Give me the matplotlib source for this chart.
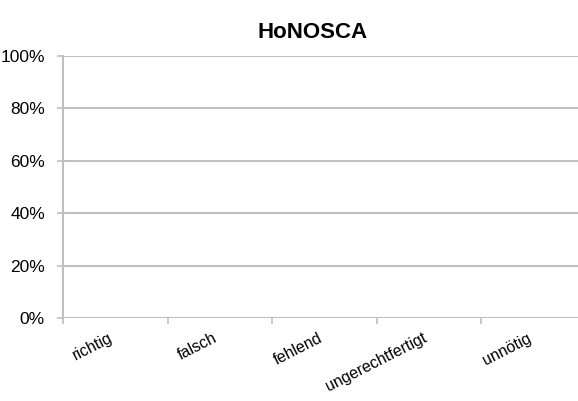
import matplotlib.pyplot as plt
from matplotlib.ticker import FixedLocator, PercentFormatter

categories = ["richtig", "falsch", "fehlend", "ungerechtfertigt", "unnötig"]
values = [0, 0, 0, 0, 0]
y_ticks = [0, 20, 40, 60, 80, 100]
title = "HoNOSCA"


def main() -> None:
    plt.rcParams.update(
        {
            "font.family": ["Liberation Sans", "DejaVu Sans"],
            "font.size": 11.5,
        }
    )
    grid_color = "#bfbfbf"

    fig = plt.figure(figsize=(5.78, 4.01), dpi=100)
    ax = fig.add_axes([63 / 578, 1 - 318 / 401, 523 / 578, 262 / 401])

    x = list(range(len(categories)))
    ax.bar(x, values, width=0.6, color="#4f81bd")

    ax.set_xlim(-0.5, len(categories) - 0.5)
    ax.set_ylim(0, 100)
    ax.set_yticks(y_ticks)
    ax.yaxis.set_major_formatter(PercentFormatter(decimals=0))
    ax.yaxis.grid(True, color=grid_color, linewidth=1.5)
    ax.set_axisbelow(True)

    ax.set_xticks(x)
    ax.set_xticklabels(categories, rotation=27, ha="right", va="top")
    ax.xaxis.set_minor_locator(FixedLocator([i - 0.5 for i in range(len(categories) + 1)]))

    for side in ["top", "right", "bottom"]:
        ax.spines[side].set_visible(False)
    ax.spines["left"].set_color(grid_color)
    ax.spines["left"].set_linewidth(1.5)

    ax.tick_params(axis="x", which="major", length=0, pad=9)
    ax.tick_params(axis="x", which="minor", length=4, width=1.2, color=grid_color)
    ax.tick_params(axis="y", length=4, width=1.2, color=grid_color, pad=9, labelsize=12.5)

    fig.text(313 / 578, 1 - 33 / 401, title, ha="center", va="center",
             fontsize=16, fontweight="bold")

    fig.savefig("out.png", dpi=100)


if __name__ == "__main__":
    main()
